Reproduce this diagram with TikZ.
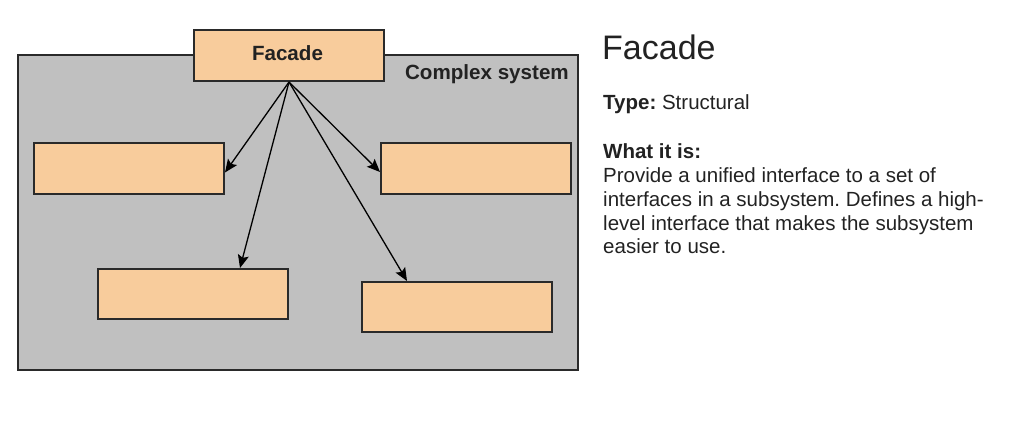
\documentclass[tikz,border=0pt]{standalone}
\usepackage{fontspec}
\setmainfont{Liberation Sans}
\usetikzlibrary{arrows.meta,calc}
\definecolor{sysgray}{HTML}{C0C0C0}
\definecolor{peach}{HTML}{F8CC9C}
\definecolor{edge}{HTML}{2A2A2A}
\definecolor{txt}{HTML}{222222}
\frenchspacing
\begin{document}
\begin{tikzpicture}[x=1pt,y=-1pt,
  box/.style={draw=edge,line width=2pt,fill=peach,minimum width=190pt,minimum height=50pt,inner sep=0pt,anchor=north west},
  arr/.style={draw=black,line width=1.3pt,-{Stealth[length=13pt,width=11pt,inset=2.5pt]}},
  body/.style={anchor=base west,inner sep=0pt,text=txt,font=\fontsize{20.5}{24}\selectfont}]
\useasboundingbox (0,0) rectangle (1012,422);
\node[draw=edge,line width=2pt,fill=sysgray,minimum width=560pt,minimum height=315pt,inner sep=0pt,anchor=north west] (sys) at (17,54) {};
\node[anchor=base east,inner sep=0pt,font=\bfseries\fontsize{20.6}{24}\selectfont,text=txt] (sysl) at (569,79.5) {Complex system};
\node[box,minimum height=51pt] (fac) at (193,29) {};
\node[anchor=base,inner sep=0pt,font=\bfseries\fontsize{20.6}{24}\selectfont,text=txt] (facl) at (287.5,60.5) {Facade};
\node[box,minimum height=51pt] (tl) at (33,142) {};
\node[box,minimum height=51pt] (tr) at (380,142) {};
\node[box] (bl) at (97,268) {};
\node[box] (br) at (361,281) {};
\coordinate (src) at (fac.south);
\coordinate (tlend) at ([yshift=-4pt]tl.east);
\coordinate (trend) at ([yshift=-3.5pt]tr.west);
\coordinate (blend) at ([xshift=143pt]bl.north west);
\coordinate (brend) at ([xshift=46pt]br.north west);
\draw[arr] (src) -- (tlend);
\draw[arr] (src) -- (trend);
\draw[arr] (src) -- (blend);
\draw[arr] (src) -- (brend);
\node[anchor=base west,inner sep=0pt,text=txt,font=\fontsize{34}{40}\selectfont] (title) at (602,59.5) {Facade};
\node[body] (type) at (603,110) {\textbf{Type:} Structural};
\node[body] (what) at (603,159) {\textbf{What it is:}};
\node[body] (l1) at (603,183) {Provide a unified interface to a set of};
\node[body] (l2) at (603,206.5) {interfaces in a subsystem. Defines a high-};
\node[body] (l3) at (603,230) {level interface that makes the subsystem};
\node[body] (l4) at (603,253.5) {easier to use.};
\end{tikzpicture}
\end{document}
